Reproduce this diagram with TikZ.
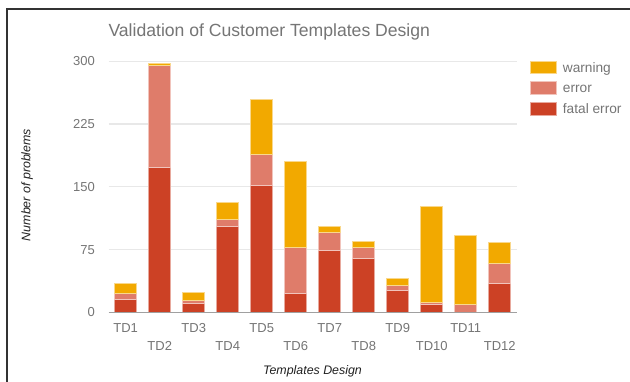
\documentclass[tikz,border=0pt]{standalone}
\usepackage{fontspec}
\setmainfont{Liberation Sans}
\definecolor{warn}{HTML}{F2A900}
\definecolor{err}{HTML}{DF7C6A}
\definecolor{fatal}{HTML}{CC4125}
\definecolor{ticktext}{HTML}{757575}
\definecolor{gridcol}{HTML}{E8E8E8}
\definecolor{basecol}{HTML}{A0A0A0}
\definecolor{titletext}{HTML}{222222}
\definecolor{framecol}{HTML}{333333}
\tikzset{
  tick/.style={font=\fontsize{13}{13}\selectfont, text=ticktext, inner sep=0pt},
  axtitle/.style={font=\fontsize{12.4}{12.4}\selectfont\itshape, text=titletext, inner sep=0pt},
  segment/.style={fill=#1, draw=#1!45!white, line width=0.7pt},
  legtext/.style={font=\fontsize{13.7}{13.7}\selectfont, text=ticktext, inner sep=0pt, anchor=base west},
}
\begin{document}
\begin{tikzpicture}[x=1pt, y=-1pt]
\useasboundingbox (0,0) rectangle (630,382);
\fill[white] (0,0) rectangle (630,382);
% outer frame (left and top edges)
\draw[framecol, line width=1.5pt] (7,382) -- (7,9) -- (630,9);

% title
\node[anchor=base west, inner sep=0pt, text=ticktext, font=\fontsize{17.6}{17.6}\selectfont] (title) at (108.3,36.7) {Validation of Customer Templates Design};

% horizontal grid lines and value labels
\foreach \v in {75,150,225,300}{
  \draw[gridcol, line width=1.2pt] (108.7,{312.3-0.837*\v}) -- (516.7,{312.3-0.837*\v});
}
\foreach \v in {0,75,150,225,300}{
  \node[tick, anchor=base east] (ytick\v) at (95,{312.3-0.837*\v+4.7}) {\v};
}

% stacked bars: index / fatal error / error / warning
\foreach \i/\f/\e/\w in {1/16/7/11, 2/173/122/3, 3/11/3/10, 4/103/8/20, 5/152/37/66, 6/23/55/102, 7/74/22/7, 8/64/13/8, 9/26/6/8, 10/10/2/115, 11/0/10/82, 12/35/24/24}{
  \pgfmathsetmacro\xl{108.7+34*(\i-0.5)-11}
  \pgfmathsetmacro\xr{\xl+22}
  \pgfmathsetmacro\ya{312.3-0.837*\f}
  \pgfmathsetmacro\yb{312.3-0.837*(\f+\e)}
  \pgfmathsetmacro\yc{312.3-0.837*(\f+\e+\w)}
  \ifnum\f>0 \draw[segment=fatal] (\xl,312.3) rectangle (\xr,\ya); \fi
  \draw[segment=err] (\xl,\ya) rectangle (\xr,\yb);
  \draw[segment=warn] (\xl,\yb) rectangle (\xr,\yc);
  \pgfmathsetmacro\xc{\xl+11}
  \pgfmathtruncatemacro\odd{mod(\i,2)}
  \ifnum\odd=1
    \node[tick, anchor=base] (xlab\i) at (\xc,332.7) {TD\i};
  \else
    \node[tick, anchor=base] (xlab\i) at (\xc,350.7) {TD\i};
  \fi
}

% baseline of the value axis
\draw[basecol, line width=1.3pt] (108.7,312.3) -- (516.7,312.3);

% axis titles
\node[axtitle, anchor=base] (xtitle) at (312.5,374.6) {Templates Design};
\node[axtitle, anchor=base, rotate=90] (ytitle) at (30.3,185) {Number of problems};

% legend
\foreach \c/\t/\y [count=\k] in {warn/warning/61, err/error/81.8, fatal/fatal error/102.6}{
  \draw[segment=\c] (530,\y) rectangle (556.7,\y+12.8);
  \node[legtext] (leg\k) at (562.7,\y+11.2) {\t};
}
\end{tikzpicture}
\end{document}
